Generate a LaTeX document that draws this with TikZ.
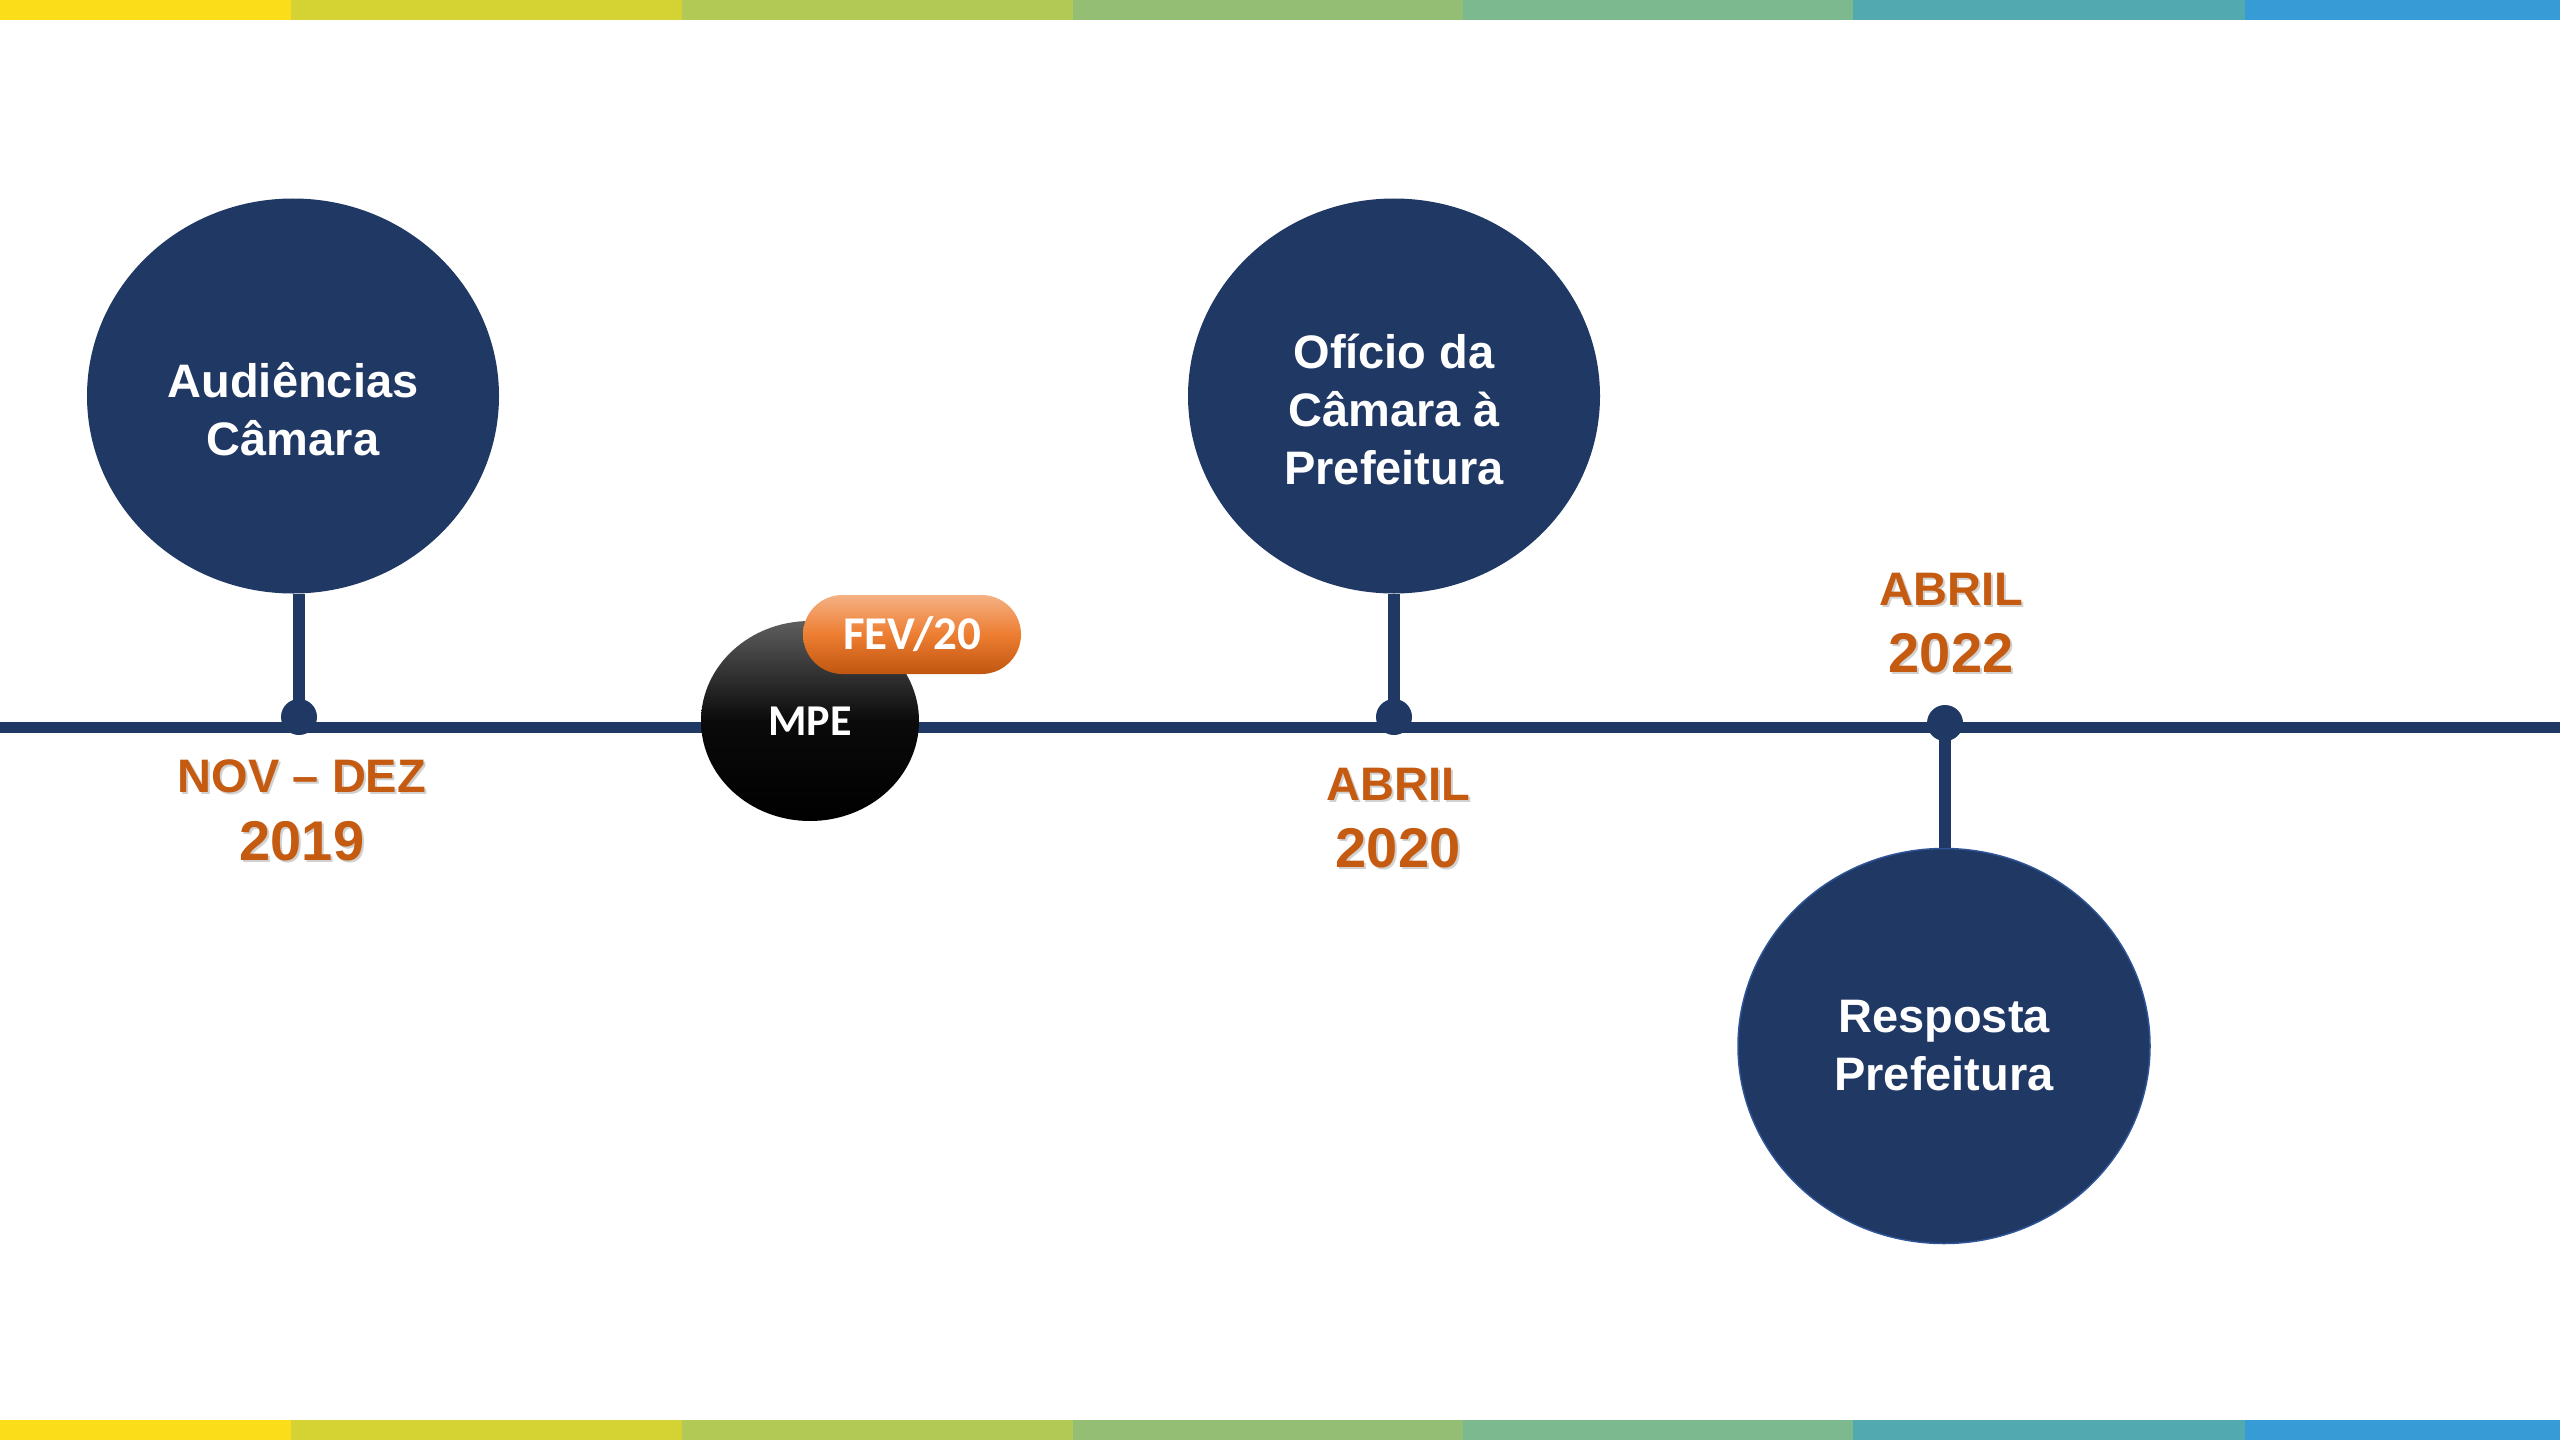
\documentclass[tikz,border=0pt]{standalone}
\usepackage{fontspec}
\setmainfont{Liberation Sans}
\newfontfamily\calibri{Carlito}
\usetikzlibrary{shapes.geometric,positioning}

\definecolor{navy}{HTML}{203864}
\definecolor{rim}{HTML}{2F5597}
\definecolor{rust}{HTML}{C55A11}
\definecolor{fevtop}{HTML}{F4B183}
\definecolor{fevmid}{HTML}{ED7D31}
\definecolor{fevbot}{HTML}{C0560F}
\definecolor{mpetop}{HTML}{5E5E5E}
\definecolor{bar1}{HTML}{FCDD1A}
\definecolor{bar2}{HTML}{D5D334}
\definecolor{bar3}{HTML}{B3C955}
\definecolor{bar4}{HTML}{93BE74}
\definecolor{bar5}{HTML}{7DB98F}
\definecolor{bar6}{HTML}{52AAB0}
\definecolor{bar7}{HTML}{379CD5}

% soft grey copy behind the date texts
\newcommand{\shadowtext}[1]{\leavevmode\rlap{\hspace{2bp}\raisebox{-2bp}{\color{black!18}#1}}#1}
% taller first line, pushes the text a bit down in the upper circles
\newcommand{\toppad}{\rule{0pt}{61bp}}

\begin{document}
\begin{tikzpicture}[x=1bp, y=-1bp]
  \tikzset{
    event/.style={ellipse, fill=navy, inner sep=0pt, minimum width=412bp, minimum height=395bp,
      text=white, align=center, font=\bfseries\fontsize{47bp}{58bp}\selectfont},
    timeline/.style={draw=navy, line width=11bp},
    stem/.style={draw=navy, line width=12bp},
    dot/.style={circle, fill=navy, inner sep=0pt, minimum size=36bp},
    month/.style={text=rust, anchor=base, font=\bfseries\fontsize{47bp}{52bp}\selectfont},
    year/.style={text=rust, anchor=base, font=\bfseries\fontsize{56bp}{60bp}\selectfont},
  }
  \useasboundingbox (0,0) rectangle (2560,1440);

  % colour bands at top and bottom
  \foreach \xa/\xb/\col in {0/291/bar1, 291/682/bar2, 682/1073/bar3, 1073/1463/bar4,
                            1463/1853/bar5, 1853/2245/bar6, 2245/2560/bar7} {
    \fill [\col] (\xa,0) rectangle (\xb,20);
    \fill [\col] (\xa,1420) rectangle (\xb,1440);
  }

  % timeline
  \coordinate (tl-start) at (0,727);
  \coordinate (tl-end) at (2560,727);
  \draw [timeline] (tl-start) -- (tl-end);

  % events
  \node (audiencias) [event] at (293,396) {\toppad Audiências\\Câmara};
  \node (oficio) [event] at (1394,396) {\toppad Ofício da\\Câmara à\\Prefeitura};
  \node (resposta) [event, draw=rim, line width=1.5bp] at (1944,1046) {Resposta\\Prefeitura};

  \node (dot-2019) [dot] at (299,717) {};
  \node (dot-2020) [dot] at (1394,717) {};
  \node (dot-2022) [dot] at (1945,723) {};

  \draw [stem] (audiencias.south -| dot-2019) -- (dot-2019.center);
  \draw [stem] (oficio.south) -- (dot-2020.center);
  \draw [stem] (dot-2022.center) -- (resposta.north -| dot-2022);

  % MPE with its date tag
  \node (mpe) [ellipse, minimum width=218bp, minimum height=200bp, inner sep=0pt,
    top color=mpetop, bottom color=black, middle color=black!96,
    text=white, font=\calibri\bfseries\fontsize{44bp}{50bp}\selectfont] at (810,721) {MPE};
  \node (fev) [rectangle, rounded corners=39.5bp, minimum width=218bp, minimum height=79bp,
    top color=fevtop, bottom color=fevbot, middle color=fevmid,
    text=white, font=\calibri\bfseries\fontsize{47bp}{52bp}\selectfont] at (912,634.5) {FEV/20};

  % dates
  \node (m-2019) [month] at (302,792) {\shadowtext{NOV – DEZ}};
  \node (y-2019) [year] at (302,860) {\shadowtext{2019}};
  \node (m-2020) [month] at (1398,800) {\shadowtext{ABRIL}};
  \node (y-2020) [year] at (1398,867) {\shadowtext{2020}};
  \node (m-2022) [month] at (1951,605) {\shadowtext{ABRIL}};
  \node (y-2022) [year] at (1951,672) {\shadowtext{2022}};
\end{tikzpicture}
\end{document}
